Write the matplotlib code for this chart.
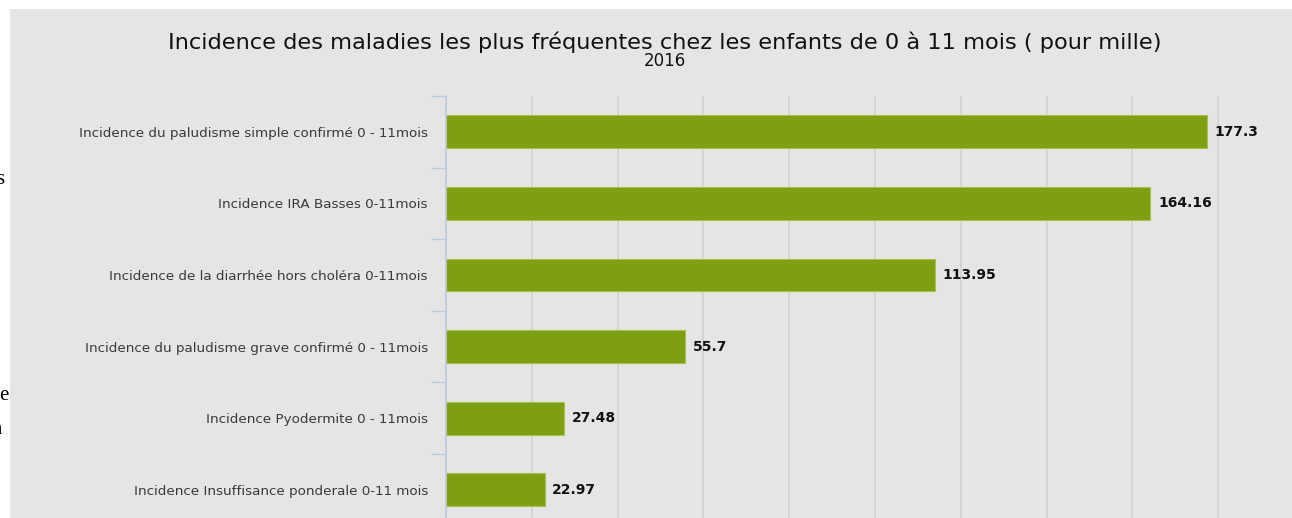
import numpy as np
import matplotlib
matplotlib.use("Agg")
import matplotlib.pyplot as plt
from matplotlib.patches import Rectangle

# data
categories = [
    "Incidence du paludisme simple confirmé 0 - 11mois",
    "Incidence IRA Basses 0-11mois",
    "Incidence de la diarrhée hors choléra 0-11mois",
    "Incidence du paludisme grave confirmé 0 - 11mois",
    "Incidence Pyodermite 0 - 11mois",
    "Incidence Insuffisance ponderale 0-11 mois",
]
values = [177.3, 164.16, 113.95, 55.7, 27.48, 22.97]
value_labels = ["177.3", "164.16", "113.95", "55.7", "27.48", "22.97"]
title = "Incidence des maladies les plus fréquentes chez les enfants de 0 à 11 mois ( pour mille)"
subtitle = "2016"

W, H = 1292, 518
bg = "#e5e5e5"
bar_color = "#7f9f13"
axis_blue = "#b9c9e3"

fig = plt.figure(figsize=(W / 100, H / 100), dpi=100)
fig.patch.set_facecolor("white")

# gray chart panel (white strip on left and top)
fig.patches.append(Rectangle((10 / W, 0), 1, 1 - 9 / H, transform=fig.transFigure,
                             facecolor=bg, edgecolor="none", zorder=0))

# stray text from the page behind the chart
for ch, x, y in [("s", -4, 180), ("e", -1, 396), ("a", -8, 430)]:
    fig.text(x / W, 1 - y / H, ch, family="Liberation Serif", fontsize=15,
             ha="left", va="center", color="black")

# plot area: left at 446 px, 86 px per 20 units, top at 96 px, 71.6 px per category
left = 446 / W
width = 858 / W
top = 1 - 96 / H
height = 6 * 71.6 / H
ax = fig.add_axes([left, top - height, width, height])
ax.set_zorder(2)
ax.set_facecolor(bg)

y = np.arange(len(categories))
ax.barh(y, values, height=0.46, color=bar_color, edgecolor="#a5c24a",
        linewidth=0.8, zorder=3)
for yi, v, lab in zip(y, values, value_labels):
    ax.text(v + 1.8, yi, lab, va="center", ha="left", fontsize=10,
            fontweight="bold", color="#111111", zorder=4)

ax.set_xlim(0, 200)
ax.set_ylim(5.5, -0.5)
ax.set_xticks(np.arange(0, 201, 20))
ax.xaxis.grid(True, color="#d0d0d0", linewidth=1.1, zorder=0)
ax.set_axisbelow(True)
ax.tick_params(axis="x", length=0, labelbottom=False)

ax.set_yticks(y)
ax.set_yticklabels(categories, fontsize=9.7, color="#3a3a3a")
ax.set_yticks(np.arange(-0.5, 6.0, 1), minor=True)
ax.tick_params(axis="y", which="major", length=0, pad=13)
ax.tick_params(axis="y", which="minor", length=11, color=axis_blue, width=1)

for s in ["top", "right", "bottom"]:
    ax.spines[s].set_visible(False)
ax.spines["left"].set_color(axis_blue)
ax.spines["left"].set_linewidth(1.2)
ax.spines["left"].set_zorder(5)

fig.text(665 / W, 1 - 42 / H, title, ha="center", va="center", fontsize=16.2,
         color="#111111")
fig.text(665 / W, 1 - 61 / H, subtitle, ha="center", va="center", fontsize=12,
         color="#111111")

fig.savefig("out.png", dpi=100, facecolor=fig.get_facecolor())
